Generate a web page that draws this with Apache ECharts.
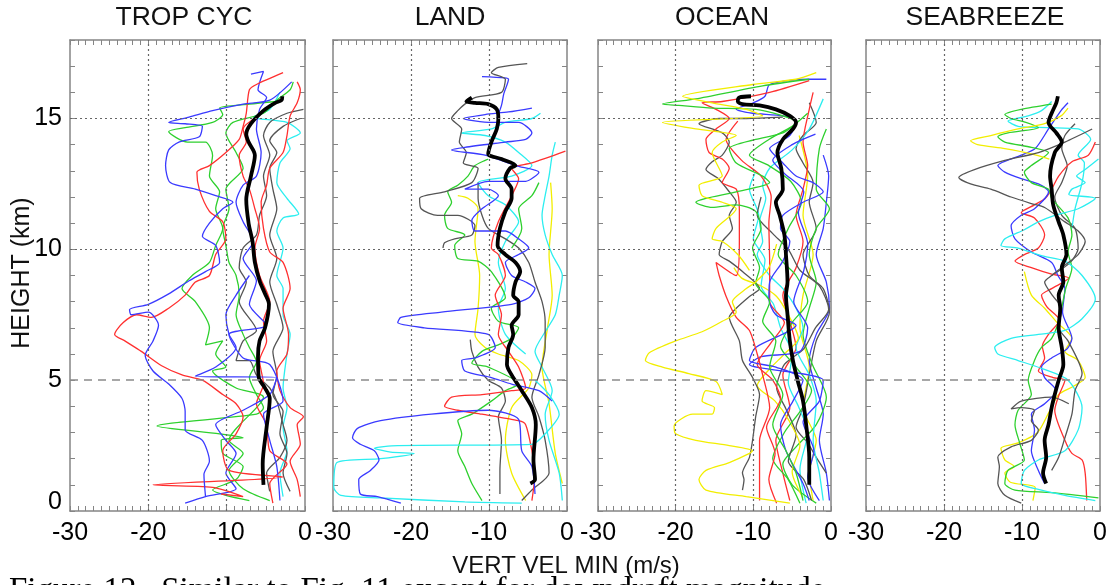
<!DOCTYPE html>
<html>
<head>
<meta charset="utf-8">
<script src="https://cdn.jsdelivr.net/npm/echarts@6/dist/echarts.min.js"></script>
<style>
  html, body { margin: 0; padding: 0; background: #fff; }
  #chart { width: 1114px; height: 585px; }
</style>
</head>
<body>
<div id="chart"></div>
<script>
// profiles are [vert vel (m/s), height (km)] pairs

// ---- TROP CYC ----
const tcMean = [[-5.3,1.0],[-5.4,1.8],[-4.9,3.2],[-4.5,4.3],[-5.1,4.7],[-5.9,5.1],[-6.0,5.9],[-5.8,6.5],[-5.1,7.0],[-4.6,7.9],[-5.1,8.3],[-5.8,8.8],[-6.4,9.5],[-6.7,10.3],[-7.2,11.0],[-7.5,11.9],[-6.9,12.8],[-6.4,13.6],[-7.2,14.1],[-7.5,14.4],[-6.9,14.8],[-5.3,15.3],[-3.8,15.6],[-3.0,15.7],[-2.9,15.85]]
const tcBlue1 = [[-12.7,0.55],[-12.9,1.4],[-12.2,1.9],[-13.1,2.7],[-15.3,3.1],[-15.3,3.8],[-15.7,4.3],[-17.4,4.85],[-19.4,5.35],[-20.4,5.95],[-19.4,6.5],[-18.7,7.1],[-20.0,7.6],[-22.2,7.5],[-22.4,7.7],[-20.0,7.9],[-17.4,8.3],[-14.8,8.8],[-12.7,9.15],[-10.9,9.5],[-11.4,10.15],[-13.1,10.5],[-12.2,11.0],[-10.5,11.55],[-9.2,11.8],[-11.4,12.05],[-14.0,12.3],[-17.2,12.55],[-17.8,13.2],[-17.4,13.8],[-16.1,14.1],[-13.5,14.3],[-13.1,14.7],[-15.3,14.8],[-17.4,14.85],[-14.8,15.05],[-11.8,15.3],[-7.9,15.55],[-4.5,15.7],[-1.7,16.4]]
const tcBlue2 = [[-6.9,16.7],[-5.3,16.8],[-6.0,16.1],[-4.9,15.8],[-5.8,15.35],[-6.2,14.6],[-5.6,13.7],[-6.2,12.8],[-7.9,12.45],[-8.8,11.8],[-7.9,11.05],[-6.6,10.3],[-7.9,9.65],[-6.2,8.8],[-7.1,7.9],[-4.9,7.1],[-9.7,6.75],[-7.9,5.85],[-4.5,5.6],[-2.8,4.2],[-5.3,3.7],[-4.5,2.7],[-3.6,1.7],[-3.2,0.4]]
const tcBlue3 = [[-15.3,0.3],[-12.7,0.55],[-8.8,0.85],[-10.1,1.45],[-8.8,2.2],[-10.1,2.7],[-11.4,3.3],[-7.9,3.85],[-4.5,4.45],[-3.6,5.1],[-14.0,5.15],[-11.4,5.5],[-8.8,6.25],[-9.7,6.75],[-10.1,7.5],[-8.8,8.25],[-7.1,9.0]]
const tcRed1 = [[-10.7,0.65],[-7.9,0.55],[-11.8,0.9],[-19.4,1.0],[-2.8,1.3],[-9.7,1.55],[-10.5,2.3],[-8.8,2.95],[-7.9,3.6],[-8.8,4.1],[-10.5,4.45],[-13.1,5.0],[-15.7,5.2],[-18.3,5.55],[-20.9,6.1],[-23.0,6.5],[-24.3,6.75],[-23.2,7.2],[-21.5,7.5],[-19.6,7.4],[-17.4,7.75],[-15.3,8.25],[-14.0,8.75],[-12.2,9.0],[-11.4,9.8],[-10.1,10.4],[-10.5,11.05],[-12.2,11.45],[-13.5,12.3],[-13.8,12.95],[-12.2,13.2],[-10.1,13.7],[-8.4,14.2],[-7.9,14.7],[-7.5,15.2],[-7.1,16.1],[-6.2,16.3],[-2.8,16.75]]
const tcRed2 = [[-0.6,0.55],[-1.0,1.2],[-1.9,1.9],[-0.6,2.55],[-1.0,3.3],[-0.2,3.6],[-1.9,3.95],[-3.2,4.6],[-3.6,5.35],[-2.3,6.0],[-2.1,6.75],[-2.8,7.75],[-1.9,8.5],[-2.8,9.5],[-4.5,9.9],[-5.3,10.8],[-5.6,11.8],[-4.9,12.45],[-4.5,13.1],[-2.8,13.7],[-2.3,14.35],[-1.9,15.1],[-1.0,15.6],[-0.6,16.1],[-1.0,16.4]]
const tcRed3 = [[-4.1,0.3],[-4.5,1.05],[-2.3,1.8],[-4.5,2.3],[-4.9,3.3],[-6.2,4.1],[-5.3,4.85],[-5.8,5.75],[-4.9,6.5],[-5.3,7.25],[-4.5,8.0],[-5.8,9.0],[-6.4,10.05],[-5.8,10.8],[-6.4,11.55],[-7.1,12.3],[-7.9,12.8],[-8.4,13.6],[-7.5,14.1],[-7.9,14.6],[-6.2,15.05]]
const tcGreen1 = [[-7.1,0.4],[-10.1,0.6],[-11.8,0.8],[-8.8,1.2],[-7.9,1.7],[-10.5,2.2],[-10.7,2.7],[-7.9,2.8],[-10.9,2.95],[-18.9,3.25],[-6.2,3.7],[-5.3,3.95],[-6.2,4.45],[-7.1,5.1],[-6.2,5.7],[-7.1,6.25],[-7.9,6.75],[-8.8,7.5],[-8.4,8.25],[-8.8,9.0],[-9.7,9.5],[-10.1,10.15],[-10.5,10.8],[-9.7,11.55],[-10.1,12.3],[-7.9,13.1],[-8.8,13.7],[-10.1,14.45],[-9.2,14.85],[-5.3,15.2],[-3.6,15.7],[-1.9,16.1],[-1.5,16.4]]
const tcGreen2 = [[-4.5,0.4],[-7.9,0.85],[-9.7,1.55],[-7.9,2.2],[-9.7,2.7],[-5.3,4.35],[-8.8,4.7],[-11.8,5.35],[-10.1,5.5],[-11.4,6.0],[-10.5,6.5],[-12.7,6.35],[-12.2,7.0],[-14.0,8.0],[-15.7,8.5],[-14.4,9.0],[-12.2,9.5],[-11.4,10.15],[-10.5,10.8],[-11.4,11.55],[-10.9,12.2],[-12.2,12.8],[-11.8,13.6],[-12.7,14.1],[-15.0,14.1],[-17.4,14.5],[-15.3,14.65],[-11.8,14.85],[-10.5,15.15],[-10.9,15.4],[-7.1,15.55],[-3.6,15.65]]
const tcGray1 = [[-4.5,0.75],[-4.9,1.45],[-3.2,2.05],[-2.3,2.7],[-2.8,3.3],[-3.6,4.2],[-4.5,4.7],[-6.2,5.2],[-7.1,5.75],[-8.8,5.75],[-7.9,6.5],[-6.2,6.9],[-8.4,8.0],[-7.5,8.75],[-8.4,9.3],[-7.9,10.05],[-6.2,10.55],[-5.8,11.3],[-4.9,12.05],[-5.3,12.8],[-4.5,13.6],[-5.3,14.35],[-4.5,14.85],[-2.3,15.2],[-0.2,15.35]]
const tcGray2 = [[-1.9,0.75],[-2.8,1.45],[-2.3,2.2],[-3.2,2.95],[-2.8,3.8],[-4.1,4.45],[-3.6,5.2],[-4.1,6.1],[-2.8,7.0],[-3.6,7.9],[-4.5,8.75],[-3.6,9.65],[-4.5,10.55],[-3.6,11.55],[-4.1,12.3],[-4.5,13.1],[-3.6,13.7],[-4.5,14.15],[-2.8,14.7],[-0.6,15.0]]
const tcCyan = [[-2.8,0.55],[-3.2,1.45],[-2.3,2.3],[-2.8,3.2],[-2.3,3.95],[-2.8,4.7],[-2.3,6.0],[-1.9,6.75],[-2.8,7.5],[-2.8,8.5],[-3.6,9.0],[-2.8,10.05],[-3.6,10.7],[-2.8,11.2],[-0.8,11.35],[-2.3,11.95],[-3.6,12.55],[-3.2,13.3],[-1.9,13.85],[-2.3,14.15],[-0.6,14.45],[-2.3,14.85],[-6.6,15.05],[-4.5,15.35],[-3.2,16.0]]

// ---- LAND ----
const ldMean = [[-4.7,1.05],[-4.1,1.2],[-4.3,1.95],[-4.0,3.3],[-4.5,3.95],[-5.8,4.6],[-7.1,5.2],[-7.7,5.6],[-7.5,6.25],[-6.9,6.75],[-7.1,7.1],[-6.2,7.5],[-6.2,8.0],[-6.9,8.25],[-6.6,8.75],[-6.0,9.15],[-6.6,9.5],[-7.9,9.8],[-8.9,10.15],[-8.6,10.8],[-7.9,11.45],[-7.1,11.95],[-7.1,12.3],[-7.9,12.7],[-7.3,13.1],[-6.6,13.2],[-8.4,13.45],[-10.1,13.65],[-9.7,14.1],[-9.0,14.6],[-8.8,15.0],[-9.0,15.35],[-10.1,15.55],[-11.8,15.6],[-12.9,15.65],[-12.2,15.8]]
const ldBlue1 = [[-21.3,0.3],[-24.3,0.55],[-26.5,0.65],[-26.7,1.2],[-25.2,1.55],[-24.1,1.95],[-24.7,2.3],[-26.5,2.55],[-27.5,2.8],[-26.9,3.15],[-23.9,3.45],[-17.4,3.7],[-10.1,3.85],[-6.2,3.5],[-5.8,2.3],[-4.5,1.7],[-4.1,0.65]]
const ldBlue2 = [[-1.9,4.2],[-3.6,4.6],[-7.1,4.85],[-9.7,5.1],[-13.1,5.35],[-13.5,5.75],[-11.8,5.85],[-9.2,6.25],[-10.1,6.75],[-18.3,7.0],[-21.7,7.2],[-21.3,7.4],[-16.1,7.6],[-7.1,7.9],[-4.9,8.15],[-4.1,8.5],[-5.3,8.75],[-7.1,9.0],[-7.9,9.5],[-6.2,9.8],[-4.9,10.05],[-6.2,10.4],[-7.9,10.7],[-11.8,10.7],[-12.2,11.1],[-10.9,11.55],[-8.8,12.05],[-10.1,12.3],[-13.1,12.3],[-10.1,12.6],[-5.3,12.6],[-3.6,12.95],[-6.6,13.2],[-10.5,13.6],[-14.8,13.8],[-13.1,13.9],[-7.9,14.1],[-5.3,14.2],[-4.5,14.45],[-6.2,14.85],[-9.7,14.85],[-13.3,15.0],[-10.5,15.15],[-7.5,15.25],[-4.5,15.4]]
const ldBlue3 = [[-10.9,16.6],[-8.0,16.55],[-7.5,16.5],[-8.1,15.95],[-8.4,15.5],[-9.0,15.0]]
const ldCyan1 = [[-5.8,0.3],[-13.1,0.35],[-23.9,0.5],[-29.0,0.6],[-29.9,0.9],[-29.5,1.85],[-23.9,2.0],[-19.6,2.2],[-22.6,2.25],[-24.7,2.4],[-21.7,2.5],[-4.5,2.55],[-2.8,2.95],[-1.0,3.7],[-2.3,4.45],[-4.1,5.0]]
const ldCyan2 = [[-0.6,0.4],[-1.0,1.45],[-2.3,2.7],[-2.8,3.7],[-1.9,4.6],[-3.2,5.5],[-4.1,6.1],[-2.8,6.85],[-1.5,7.5],[-1.0,8.25],[-0.6,9.0],[-1.9,9.8],[-2.8,10.55],[-3.2,11.3],[-2.8,12.05],[-2.3,12.8],[-1.9,13.6],[-1.5,14.1]]
const ldCyan3 = [[-5.3,6.0],[-7.9,6.75],[-8.8,7.75],[-7.9,8.5],[-8.8,9.5],[-7.9,10.3],[-6.2,11.05],[-7.9,11.7],[-10.1,12.05],[-11.4,12.55],[-7.1,12.8],[-4.5,13.2],[-6.2,13.7],[-7.9,14.1],[-10.5,14.35],[-13.6,14.45],[-9.7,14.6],[-7.9,14.85],[-4.5,15.0],[-3.4,15.2]]
const ldGray1 = [[-5.1,17.1],[-8.8,16.95],[-9.7,16.75],[-7.9,16.5],[-8.4,16.0],[-11.8,15.8],[-13.1,15.55],[-14.0,15.3],[-14.8,15.0],[-13.5,14.6],[-13.8,14.1],[-12.9,13.7],[-13.3,13.3],[-11.4,13.1],[-12.2,12.55],[-15.7,12.2],[-18.9,11.95],[-18.7,11.55],[-16.6,11.3],[-14.0,11.3],[-11.8,10.9],[-12.2,10.55],[-14.4,10.4],[-15.7,10.25],[-15.9,10.05]]
const ldGray2 = [[-8.6,0.65],[-8.6,1.55],[-8.4,2.7],[-8.8,3.6],[-7.9,4.2],[-8.4,4.7],[-10.1,5.0],[-11.4,5.5],[-12.2,6.1],[-12.4,6.55]]
const ldGray3 = [[-5.8,0.4],[-4.5,0.8],[-2.3,1.45],[-2.8,2.7],[-3.6,3.6],[-4.5,4.35],[-3.6,5.2],[-2.8,6.25],[-2.8,7.25],[-3.2,8.0],[-4.1,8.75],[-4.9,9.5],[-6.2,10.05],[-7.9,10.4],[-10.1,10.8],[-10.9,11.3],[-11.4,11.95],[-11.4,12.55]]
const ldGreen1 = [[-10.9,0.4],[-12.2,1.05],[-13.1,1.7],[-14.0,2.3],[-13.5,2.95],[-14.0,3.45],[-12.2,3.7],[-9.7,4.2],[-7.9,4.6],[-6.2,4.85],[-10.1,5.5],[-12.2,5.65],[-10.9,6.1],[-8.8,6.35],[-7.1,6.6],[-6.2,7.0],[-8.8,7.25],[-9.7,7.75],[-7.9,8.15],[-9.7,9.15],[-11.4,9.55],[-14.0,9.65],[-14.4,10.15],[-13.1,10.55],[-15.3,10.8],[-15.7,11.3],[-14.8,11.8],[-15.3,12.2],[-14.0,12.45],[-12.7,12.8],[-11.8,13.2],[-10.1,13.45]]
const ldGreen2 = [[-7.1,10.05],[-5.8,10.8],[-6.2,11.55],[-4.5,12.05],[-3.6,12.55]]
const ldRed1 = [[-4.5,0.4],[-4.1,1.45],[-4.5,2.3],[-5.3,3.3],[-6.2,3.45],[-10.9,3.7],[-14.0,3.85],[-15.7,4.0],[-14.8,4.35],[-10.9,4.45],[-7.1,4.6],[-5.3,4.7],[-6.2,5.5],[-7.5,6.1],[-8.8,6.75],[-8.4,7.5],[-9.2,8.25],[-7.9,9.0],[-8.8,9.8],[-9.7,10.05],[-8.8,11.05],[-7.1,12.05],[-6.2,12.7],[-7.1,13.1],[-4.5,13.3],[-0.2,13.75]]
const ldYellow1 = [[-5.3,0.4],[-7.1,1.45],[-7.9,2.7],[-7.1,3.95],[-4.9,4.7],[-4.5,5.2],[-6.2,5.75],[-8.8,6.0],[-10.5,6.25],[-11.8,6.75],[-11.4,7.75],[-11.2,9.0],[-11.8,10.3],[-11.4,11.55],[-12.7,11.95],[-14.0,12.05]]
const ldYellow2 = [[-0.6,1.05],[-1.5,2.2],[-2.3,4.1],[-3.2,5.5],[-2.5,7.0],[-1.9,8.25],[-2.3,9.8],[-1.9,11.55],[-2.1,12.55]]

// ---- OCEAN ----
const ocMean = [[-2.8,1.0],[-2.8,2.05],[-3.2,3.3],[-3.6,4.2],[-4.3,5.0],[-4.9,5.75],[-5.3,6.5],[-5.6,7.5],[-5.8,8.25],[-5.6,8.75],[-5.8,9.8],[-6.0,10.55],[-6.6,11.3],[-7.1,11.8],[-6.2,12.3],[-6.4,13.1],[-6.9,13.7],[-6.2,14.2],[-4.9,14.6],[-4.5,14.85],[-5.3,15.1],[-7.1,15.35],[-9.2,15.5],[-11.4,15.55],[-12.0,15.65],[-11.8,15.8],[-10.3,15.85]]
const ocYellow1 = [[-5.3,0.3],[-10.9,0.55],[-16.1,0.8],[-17.0,1.2],[-16.1,1.55],[-13.1,1.85],[-10.5,2.2],[-10.1,2.3],[-13.1,2.5],[-17.4,2.7],[-20.0,2.95],[-20.2,3.25],[-17.8,3.7],[-15.3,3.7],[-15.0,3.95],[-16.6,4.2],[-16.1,4.6],[-14.0,4.45],[-14.8,4.95],[-18.3,5.25],[-21.7,5.5],[-23.9,5.75],[-23.4,6.05],[-20.0,6.5],[-16.6,6.85],[-14.0,7.25],[-12.2,7.6],[-12.7,8.0],[-10.9,8.5],[-9.7,8.75],[-8.0,9.3],[-7.0,10.2]]
const ocYellow2 = [[-1.9,16.75],[-4.5,16.5],[-10.1,16.3],[-19.1,15.85],[-15.3,15.6],[-10.9,15.35],[-8.8,15.1],[-21.7,14.85],[-17.4,14.6],[-12.2,14.35],[-14.0,14.1],[-15.3,13.7],[-14.0,12.8],[-17.0,12.45],[-16.6,12.05],[-14.0,11.8],[-12.2,11.55],[-14.8,10.8],[-15.3,10.4],[-14.0,10.3],[-12.0,9.8],[-10.5,9.2]]
const ocYellow3 = [[-2.3,0.4],[-2.8,1.45],[-1.9,2.7],[-3.6,3.95],[-2.8,5.5],[-4.0,7.0],[-3.6,8.25],[-2.3,9.8],[-3.6,11.3],[-3.0,12.8],[-4.1,14.35]]
const ocYellow4 = [[-3.6,0.5],[-5.0,1.5],[-4.0,2.5],[-5.5,3.5],[-7.2,4.2],[-9.5,4.8],[-8.0,5.4],[-6.0,6.0],[-4.2,6.6],[-5.5,7.5],[-7.0,8.2],[-9.0,8.6],[-11.5,8.9],[-12.5,9.3]]
const ocGreen1 = [[-2.8,16.5],[-8.8,16.25],[-17.4,15.75],[-21.7,15.55],[-19.6,15.5],[-15.3,15.4],[-9.7,15.35],[-4.5,14.85],[-6.2,14.45],[-9.7,14.2],[-13.1,13.85],[-12.2,13.3],[-8.8,12.8],[-7.9,12.55],[-12.2,12.2],[-16.1,11.95],[-17.4,11.8],[-15.3,11.6],[-12.2,11.7],[-9.7,11.45],[-9.0,10.8],[-10.1,10.05],[-9.2,9.3],[-9.7,8.7],[-7.9,8.0],[-8.8,7.25],[-7.1,6.5],[-7.9,5.5],[-6.2,4.45],[-7.5,3.3],[-5.8,2.3],[-4.5,1.45],[-3.6,0.4]]
const ocGreen2 = [[-0.6,14.6],[-1.5,13.85],[-1.9,12.3],[-0.2,11.55],[-1.9,10.8],[-2.8,9.8],[-1.9,8.75],[-2.8,7.75],[-3.6,6.75],[-2.4,5.6],[-0.6,4.35],[-1.9,3.3],[-4.5,2.45],[-6.2,1.8],[-5.0,1.0],[-1.9,0.3]]
const ocGreen3 = [[-4.0,0.3],[-5.5,1.2],[-7.5,2.0],[-6.0,3.0],[-4.0,3.8],[-2.5,4.6],[-4.5,5.5],[-6.5,6.3],[-5.0,7.2],[-3.0,8.0],[-4.5,9.0],[-6.8,9.8],[-5.5,10.8],[-3.8,11.8],[-5.2,12.6],[-8.0,13.2],[-10.5,13.6],[-8.0,14.2],[-5.0,14.7],[-3.0,15.2]]
const ocRed1 = [[-2.8,16.45],[-7.9,16.0],[-14.0,15.65],[-16.6,15.6],[-14.8,15.35],[-13.1,15.0],[-14.8,14.6],[-16.1,14.2],[-15.7,13.7],[-14.0,13.45],[-13.1,13.1],[-14.0,12.55],[-12.2,12.3],[-11.8,11.5],[-11.8,10.3],[-12.2,9.0],[-14.8,9.5],[-14.4,9.0],[-13.5,8.2],[-12.2,7.4],[-10.5,6.9],[-9.5,6.0],[-8.8,5.2],[-7.9,3.95],[-9.2,2.7],[-9.2,1.45],[-9.2,0.4]]
const ocRed2 = [[-2.3,16.0],[-2.8,15.35],[-3.6,14.1],[-3.0,13.2],[-3.6,12.3],[-4.5,11.3],[-3.6,10.3],[-4.5,9.3],[-6.2,8.25],[-5.3,7.25],[-4.5,6.25],[-6.2,5.2],[-5.3,3.95],[-7.1,2.7],[-6.2,1.45],[-5.3,0.4]]
const ocRed3 = [[-7.0,0.3],[-8.0,1.2],[-7.2,2.2],[-8.3,3.2],[-6.5,4.3],[-7.5,5.0],[-9.5,5.6],[-7.8,6.4],[-6.0,7.2],[-7.9,8.0],[-7.9,9.5],[-8.0,11.0],[-7.7,12.0],[-9.0,12.8],[-11.5,13.4],[-13.5,14.2],[-12.0,14.9]]
const ocGray1 = [[-11.4,0.8],[-11.2,1.2],[-11.4,1.45],[-10.5,2.05],[-10.1,2.7],[-9.7,3.6],[-9.2,4.45],[-10.1,5.1],[-11.4,5.75],[-11.8,6.5],[-13.1,7.4],[-12.2,7.75],[-10.5,8.2],[-9.2,8.5],[-11.4,9.15],[-13.1,9.55],[-14.4,9.8],[-14.0,10.3],[-12.7,10.8],[-13.1,11.3],[-12.2,11.8],[-13.1,12.2],[-14.5,12.7],[-16.1,13.05],[-15.3,13.35],[-14.0,13.6],[-13.1,14.1],[-14.0,14.45],[-17.0,14.8],[-14.4,15.0],[-10.9,15.0],[-6.2,15.05]]
const ocGray2 = [[-0.6,1.45],[-1.9,2.05],[-3.0,2.6],[-4.5,3.2],[-3.6,3.95],[-2.8,5.2],[-1.9,6.5],[-0.2,7.6],[-1.0,8.5],[-2.8,9.0],[-3.6,9.8],[-1.9,10.8],[-2.8,11.8],[-2.3,12.55],[-3.6,13.3],[-4.5,13.85],[-3.6,14.35],[-1.9,14.85],[-2.8,15.6]]
const ocGray3 = [[-2.5,0.4],[-3.5,1.2],[-5.5,1.9],[-4.5,2.9],[-5.8,3.9],[-7.0,4.7],[-6.0,5.6],[-3.5,6.2],[-2.0,7.0],[-0.3,7.7],[-1.5,8.6],[-4.0,9.2],[-5.5,10.0],[-7.5,10.6],[-9.5,11.3],[-9.0,12.0]]
const ocBlue1 = [[-0.6,16.5],[-2.8,16.5],[-7.9,16.3],[-8.5,15.85],[-10.0,15.6],[-12.2,15.35],[-10.1,15.2],[-6.2,15.1],[-4.5,14.9],[-5.3,14.35],[-7.9,13.85],[-6.2,13.3],[-4.5,12.8],[-2.3,12.55],[-1.0,12.2],[-3.6,11.8],[-6.2,11.3],[-6.5,10.8],[-5.3,10.3],[-6.2,9.55],[-7.9,8.75],[-8.0,8.1],[-7.1,7.5],[-4.5,7.1],[-9.7,6.25],[-10.5,5.75],[-7.1,5.5],[-3.6,5.0],[-4.9,4.2],[-6.5,3.3],[-5.8,2.3],[-3.6,1.05],[-2.8,0.4]]
const ocBlue2 = [[-0.2,0.4],[-0.6,1.45],[-1.5,2.7],[-1.0,3.7],[-1.9,4.7],[-2.8,5.75],[-1.9,6.75],[-0.2,7.75],[-0.6,8.75],[-1.9,9.8],[-1.0,10.8],[-0.6,11.8],[-0.3,12.8],[-1.0,13.6]]
const ocBlue3 = [[-1.5,0.4],[-3.0,1.3],[-2.2,2.3],[-3.6,3.4],[-1.5,4.2],[-1.0,5.0],[-10.5,5.6],[-9.0,5.9],[-4.0,6.1],[-3.0,7.0],[-4.8,8.0],[-3.5,9.2],[-3.0,10.2],[-4.2,11.4],[-3.5,12.2],[-6.0,12.9],[-7.5,13.4],[-5.0,14.0],[-2.0,14.4]]
const ocCyan = [[-1.0,15.75],[-2.8,14.6],[-5.0,13.8],[-7.9,13.1],[-8.8,12.45],[-8.4,11.95],[-9.2,11.05],[-8.8,10.3],[-9.5,9.8],[-7.9,9.0],[-6.2,8.5],[-4.5,7.75],[-3.6,7.0],[-4.5,6.25],[-2.8,5.2],[-1.9,4.2],[-2.3,2.7],[-1.5,1.45],[-1.0,0.4]]
const ocCyan2 = [[-3.2,0.3],[-4.0,1.6],[-3.0,3.0],[-4.2,4.0],[-5.5,4.9],[-5.0,6.0],[-6.5,7.0],[-7.4,7.9],[-9.0,8.6],[-8.5,9.6],[-10.0,10.4],[-9.3,11.3],[-10.5,12.3],[-9.8,12.9]]

// ---- SEABREEZE ----
const sbMean = [[-6.9,1.05],[-7.3,1.45],[-6.9,2.05],[-7.1,2.7],[-6.6,3.3],[-6.2,3.95],[-5.8,4.45],[-5.3,5.0],[-4.7,5.6],[-4.9,6.25],[-5.3,7.0],[-5.1,7.75],[-5.3,8.25],[-4.7,8.75],[-4.9,9.3],[-4.3,9.8],[-4.7,10.55],[-5.3,11.05],[-6.0,11.7],[-6.2,12.3],[-6.4,12.8],[-5.8,13.7],[-4.9,14.1],[-5.6,14.45],[-6.6,14.85],[-6.2,15.2],[-5.6,15.6],[-5.4,15.85]]
const sbGray1 = [[-1.0,14.6],[-4.5,14.1],[-7.9,13.7],[-12.2,13.4],[-16.1,13.05],[-18.1,12.75],[-16.6,12.5],[-14.0,12.3],[-11.4,12.0],[-8.8,11.75],[-7.1,11.6],[-4.5,11.05],[-2.8,10.7],[-1.9,10.3],[-2.8,9.8],[-4.5,9.4],[-6.2,9.0],[-7.1,8.75],[-6.0,8.2],[-4.9,7.75],[-5.3,7.0],[-4.1,6.5],[-2.3,5.25],[-3.2,4.6],[-3.6,3.7],[-4.5,2.8],[-5.3,2.05],[-6.2,1.55]]
const sbGray2 = [[-10.1,0.3],[-12.2,0.6],[-13.1,1.05],[-12.9,1.7],[-13.1,2.05],[-11.4,2.45],[-8.8,2.7],[-7.9,3.1],[-8.8,3.45],[-8.4,3.85],[-10.1,3.95],[-11.4,3.9],[-10.1,4.2],[-6.2,4.35],[-4.0,4.1]]
const sbGray3 = [[-3.2,14.8],[-4.5,14.35],[-4.9,13.85],[-4.2,13.2],[-4.9,12.55],[-5.8,12.0],[-4.9,11.3],[-3.2,10.8],[-2.8,10.05],[-3.8,9.5],[-6.2,9.0]]
const sbCyan1 = [[-0.2,13.45],[-1.9,13.05],[-3.0,12.8],[-1.9,12.55],[-3.6,12.3],[-4.0,12.1],[-0.6,11.95],[-2.8,11.55],[-5.8,11.3],[-7.9,11.05],[-9.7,10.75],[-12.2,10.4],[-12.7,10.15],[-10.5,10.05],[-7.4,9.75],[-4.5,9.55],[-2.3,9.0],[-0.6,8.1],[-2.3,7.35],[-4.5,6.9],[-7.9,6.75],[-11.4,6.6],[-13.5,6.25],[-13.1,6.0],[-10.5,5.75],[-7.5,5.45],[-4.1,5.0],[-2.3,3.95],[-2.8,3.1],[-4.5,2.3],[-7.9,1.95],[-9.7,1.55],[-10.1,1.05],[-7.5,0.8],[-4.5,0.6],[-0.6,0.4]]
const sbCyan2 = [[-6.2,15.65],[-7.5,15.3],[-9.2,15.1],[-11.8,14.9],[-10.5,14.7],[-6.8,14.65],[-2.8,14.6],[-1.2,14.2],[-2.8,13.6],[-2.0,13.3],[-2.3,12.55],[-3.2,11.55],[-3.6,10.8]]
const sbGreen = [[-6.2,15.55],[-10.1,15.35],[-12.2,15.15],[-11.4,15.0],[-9.5,14.85],[-7.9,14.65],[-11.8,14.45],[-13.1,14.3],[-12.2,14.1],[-8.8,13.9],[-6.6,13.7],[-8.8,13.2],[-9.7,12.95],[-8.8,12.55],[-6.6,12.3],[-6.2,11.95],[-4.1,11.2],[-3.6,10.55],[-4.1,9.9],[-3.6,9.3],[-4.4,8.5],[-5.3,7.25],[-6.2,6.6],[-7.5,6.25],[-8.4,5.75],[-9.2,5.0],[-8.8,4.45],[-10.5,3.85],[-10.9,3.3],[-10.3,2.6],[-9.7,1.95],[-11.8,1.55],[-12.2,1.05],[-10.9,0.8],[-6.2,0.7],[-0.2,0.5]]
const sbBlue = [[-4.1,15.6],[-5.0,15.3],[-6.6,14.6],[-8.3,13.85],[-10.1,13.6],[-13.1,13.2],[-12.2,12.95],[-10.1,12.7],[-7.9,12.5],[-6.6,12.2],[-8.4,11.55],[-10.1,11.3],[-11.4,10.9],[-10.9,10.4],[-8.8,9.9],[-6.2,9.5],[-5.4,9.0],[-4.5,8.5],[-4.8,7.6],[-3.6,6.6],[-4.2,6.2],[-6.2,5.85],[-7.5,5.5],[-7.1,5.1],[-5.6,4.6],[-7.1,4.1],[-8.8,3.7],[-8.4,3.1],[-8.8,2.3],[-7.9,1.55],[-7.1,1.05]]
const sbRed = [[-0.6,14.1],[-1.5,13.6],[-3.6,13.35],[-5.3,12.8],[-6.2,12.3],[-7.0,11.95],[-8.4,11.7],[-10.1,11.4],[-8.4,11.2],[-7.1,10.55],[-7.9,10.05],[-9.7,9.8],[-10.9,9.55],[-8.8,9.3],[-6.2,9.05],[-4.0,8.9],[-6.2,8.5],[-7.5,8.25],[-6.8,7.8],[-5.2,7.3],[-6.6,6.75],[-7.4,6.3],[-7.1,5.85],[-7.9,5.35],[-6.0,5.1],[-4.5,5.0],[-5.3,4.4],[-5.8,3.85],[-4.5,2.7],[-3.6,2.2],[-2.3,1.95],[-1.9,1.45],[-1.7,0.4]]
const sbYellow1 = [[-4.1,15.4],[-5.0,15.1],[-7.1,14.8],[-10.5,14.6],[-14.0,14.35],[-16.6,14.15],[-15.7,14.0],[-12.2,13.85],[-8.8,13.65],[-6.5,13.45]]
const sbYellow2 = [[-9.7,9.15],[-8.8,8.25],[-7.1,7.75],[-5.5,7.2],[-3.6,6.6],[-4.5,6.1],[-2.8,5.75],[-1.9,5.1],[-3.5,4.75],[-5.3,4.45],[-6.5,3.8],[-8.0,3.0],[-10.5,2.6],[-12.7,2.4],[-12.2,1.95],[-11.0,1.7],[-12.2,1.45],[-11.5,1.1],[-8.3,0.9],[-8.6,0.4]]

// ---- layout / look ----
const titles = ['TROP CYC', 'LAND', 'OCEAN', 'SEABREEZE']
const titleX = [184, 450, 722, 985]
const gridLeft = [70, 333, 598, 866]
const gridWidth = [235, 234, 233, 234]
const xTickLabels = [-30, -20, -10, 0]
const yTickLabels = [0, 5, 10, 15]
const palette = { b: '#3a3aff', r: '#ff3030', g: '#2ed02e', k: '#555555', c: '#2ceef0', y: '#f2ee00' }
const FONT = '"Liberation Sans", Arial, Helvetica, sans-serif'

const panels = [
  { lines: [['c', tcCyan], ['k', tcGray2], ['k', tcGray1], ['g', tcGreen2], ['g', tcGreen1], ['r', tcRed3], ['r', tcRed2], ['b', tcBlue3], ['b', tcBlue2], ['r', tcRed1], ['b', tcBlue1]], mean: tcMean },
  { lines: [['y', ldYellow2], ['y', ldYellow1], ['c', ldCyan2], ['c', ldCyan3], ['k', ldGray3], ['k', ldGray2], ['g', ldGreen2], ['g', ldGreen1], ['r', ldRed1], ['c', ldCyan1], ['b', ldBlue3], ['b', ldBlue1], ['k', ldGray1], ['b', ldBlue2]], mean: ldMean },
  { lines: [['y', ocYellow3], ['b', ocBlue2], ['k', ocGray2], ['c', ocCyan2], ['g', ocGreen2], ['r', ocRed2], ['k', ocGray3], ['c', ocCyan], ['y', ocYellow4], ['g', ocGreen3], ['b', ocBlue3], ['r', ocRed3], ['b', ocBlue1], ['k', ocGray1], ['r', ocRed1], ['g', ocGreen1], ['y', ocYellow2], ['y', ocYellow1]], mean: ocMean },
  { lines: [['k', sbGray3], ['c', sbCyan2], ['y', sbYellow2], ['r', sbRed], ['b', sbBlue], ['g', sbGreen], ['c', sbCyan1], ['k', sbGray2], ['y', sbYellow1], ['k', sbGray1]], mean: sbMean }
]

const frame = { show: true, onZero: false, lineStyle: { color: '#858585', width: 1.5 } }
const ticks = { show: true, inside: true, length: 5, lineStyle: { color: '#858585', width: 1 } }
const dotted = { type: [2, 3], color: '#666', width: 1.2 }
const dashed = { type: [8, 6], color: '#8a8a8a', width: 1.5 }

const grid = [], xAxis = [], yAxis = [], series = []
panels.forEach((p, i) => {
  grid.push({ left: gridLeft[i], width: gridWidth[i], top: 40, height: 471 })
  const xBase = { gridIndex: i, type: 'value', min: -30, max: 0, interval: 1, axisLine: frame, axisTick: ticks, splitLine: { show: false } }
  xAxis.push(Object.assign({}, xBase, {
    position: 'bottom',
    axisLabel: { fontSize: 25, color: '#000', fontFamily: FONT, margin: 10,
      formatter: v => xTickLabels.includes(v) ? String(v) : '' }
  }))
  xAxis.push(Object.assign({}, xBase, { position: 'top', axisLabel: { show: false } }))
  const yBase = { gridIndex: i, type: 'value', min: 0, max: 18, interval: 1, axisLine: frame, axisTick: ticks, splitLine: { show: false } }
  yAxis.push(Object.assign({}, yBase, {
    position: 'left',
    axisLabel: i === 0 ? {
      fontSize: 25, color: '#000', fontFamily: FONT, margin: 8,
      formatter: v => v === 0 ? '{z|0}' : (yTickLabels.includes(v) ? String(v) : ''),
      rich: { z: { fontSize: 25, color: '#000', fontFamily: FONT, padding: [0, 0, 18, 0] } }
    } : { show: false }
  }))
  yAxis.push(Object.assign({}, yBase, { position: 'right', axisLabel: { show: false } }))

  p.lines.forEach(([c, d], j) => {
    const s = {
      type: 'line', xAxisIndex: 2 * i, yAxisIndex: 2 * i, data: d,
      symbol: 'none', smooth: 0.25, silent: true,
      lineStyle: { color: palette[c], width: 1.3 }
    }
    if (j === 0) {
      s.markLine = {
        silent: true, symbol: ['none', 'none'], label: { show: false }, animation: false,
        data: [
          { yAxis: 5, lineStyle: dashed },
          { yAxis: 10, lineStyle: dotted },
          { yAxis: 15, lineStyle: dotted },
          { xAxis: -20, lineStyle: dotted },
          { xAxis: -10, lineStyle: dotted }
        ]
      }
    }
    series.push(s)
  })
  series.push({
    type: 'line', xAxisIndex: 2 * i, yAxisIndex: 2 * i, data: p.mean,
    symbol: 'none', smooth: 0.3, silent: true,
    lineStyle: { color: '#000', width: 3.8 }
  })
})

const graphic = titles.map((t, i) => ({
  type: 'text', x: titleX[i], y: 18,
  style: { text: t, font: '26.5px ' + FONT, fill: '#111', textAlign: 'center', textVerticalAlign: 'middle' }
}))
graphic.push({
  type: 'text', x: 566, y: 566,
  style: { text: 'VERT VEL MIN (m/s)', font: '24px ' + FONT, fill: '#111', textAlign: 'center', textVerticalAlign: 'middle' }
})
graphic.push({
  type: 'text', x: 22, y: 273, rotation: Math.PI / 2,
  style: { text: 'HEIGHT (km)', font: '25px ' + FONT, fill: '#111', textAlign: 'center', textVerticalAlign: 'middle' }
})
graphic.push({
  type: 'text', x: 9, y: 575,
  style: { text: 'Figure 12.  Similar to Fig. 11 except for downdraft magnitude.', font: '33px "Liberation Serif", "Times New Roman", serif', fill: '#000', textAlign: 'left', textVerticalAlign: 'top' }
})

const chart = echarts.init(document.getElementById('chart'), null, { renderer: 'canvas' })
chart.setOption({
  animation: false,
  backgroundColor: '#fff',
  grid, xAxis, yAxis, series, graphic
})
</script>
</body>
</html>
